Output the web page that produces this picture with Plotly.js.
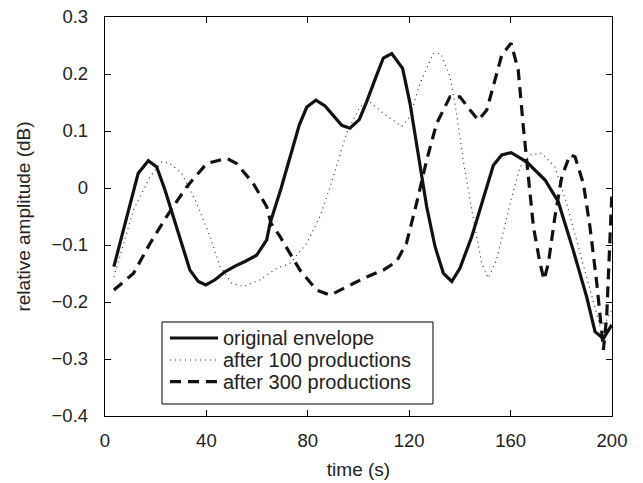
<!DOCTYPE html>
<html>
<head>
<meta charset="utf-8">
<script src="https://cdn.plot.ly/plotly-3.0.1.min.js"></script>
<style>html,body{margin:0;padding:0;background:#fff;}#chart{width:643px;height:483px;}</style>
</head>
<body>
<div id="chart"></div>
<script>
const seriesNames = ["original envelope", "after 100 productions", "after 300 productions"];

const origX = [3.5, 13.1, 17.1, 20.4, 23.7, 33.5, 36.8, 39.8, 43.4, 47.3, 51.3, 55.2, 59.8, 63.8, 65.1, 69.5, 76.6, 79.6, 83.2, 86.8, 93.4, 96.6, 100.3, 103.2, 106.9, 109.8, 113.1, 117.4, 120.3, 122.9, 126.9, 130.2, 133.5, 136.8, 140, 144.7, 148.6, 153.2, 156.5, 160.2, 166.3, 173.6, 178.8, 184.7, 190, 193.3, 196.6, 199.9];
const origY = [-0.138, 0.026, 0.048, 0.037, -0.004, -0.144, -0.164, -0.170, -0.161, -0.147, -0.137, -0.129, -0.118, -0.091, -0.062, 0.0, 0.110, 0.142, 0.154, 0.144, 0.110, 0.105, 0.120, 0.151, 0.195, 0.228, 0.236, 0.210, 0.149, 0.078, -0.033, -0.103, -0.150, -0.164, -0.141, -0.085, -0.027, 0.040, 0.058, 0.062, 0.046, 0.014, -0.024, -0.109, -0.191, -0.252, -0.264, -0.240];

const p100X = [3.5, 11.2, 17.8, 22.4, 25.6, 30.2, 36.2, 41.4, 45.4, 50, 54.6, 61.1, 67.7, 73, 79.6, 84.8, 88.8, 92.7, 95.3, 100.6, 104.5, 109.8, 117, 120.3, 124.3, 129.5, 132.5, 136.1, 138.7, 141.3, 144.7, 148.6, 151.2, 154.5, 159.8, 163.7, 167.7, 172.3, 177.5, 182.1, 187.4, 192.6, 195.3, 197.9, 199.9];
const p100Y = [-0.156, -0.039, 0.02, 0.046, 0.043, 0.026, -0.027, -0.085, -0.138, -0.167, -0.173, -0.161, -0.141, -0.132, -0.097, -0.050, 0.002, 0.061, 0.096, 0.143, 0.151, 0.131, 0.108, 0.125, 0.184, 0.236, 0.236, 0.195, 0.131, 0.049, -0.039, -0.132, -0.158, -0.126, -0.027, 0.037, 0.058, 0.061, 0.037, -0.027, -0.115, -0.202, -0.243, -0.232, -0.214];

const p300X = [3.5, 11.2, 17.8, 24.3, 32.2, 40.1, 48, 51.9, 58.5, 63.8, 65.5, 69, 76.9, 83.5, 88.8, 94, 103.2, 109.8, 115, 118.9, 122.9, 126.9, 130.8, 136.1, 140, 144, 147.3, 150.6, 153.2, 156.5, 160.2, 163, 165, 167, 169, 171.6, 173.2, 174.9, 177.5, 180.2, 183.4, 185.4, 188.7, 191.3, 194, 196, 196.6, 197.9, 199.2, 199.9];
const p300Y = [-0.179, -0.150, -0.097, -0.050, 0.002, 0.043, 0.052, 0.043, 0.008, -0.033, -0.062, -0.085, -0.144, -0.179, -0.188, -0.176, -0.156, -0.144, -0.129, -0.097, -0.027, 0.049, 0.113, 0.160, 0.160, 0.137, 0.119, 0.137, 0.178, 0.233, 0.254, 0.207, 0.108, 0.026, -0.068, -0.132, -0.161, -0.132, -0.050, 0.020, 0.058, 0.055, 0.008, -0.068, -0.167, -0.255, -0.284, -0.226, -0.097, -0.015];

const xTicks = [0, 40, 80, 120, 160, 200];
const yTicks = [-0.4, -0.3, -0.2, -0.1, 0, 0.1, 0.2, 0.3];
const yTickText = ["\u22120.4", "\u22120.3", "\u22120.2", "\u22120.1", "0", "0.1", "0.2", "0.3"];

const FONT = "Liberation Sans, Arial, sans-serif";
const lineStyles = [
  {color: "#111", width: 3.2},
  {color: "#333", width: 1.2, dash: "1px,4px"},
  {color: "#111", width: 3.2, dash: "11px,7px"}
];

const traces = [
  {x: origX, y: origY, name: seriesNames[0], mode: "lines", line: lineStyles[0], showlegend: false},
  {x: p100X, y: p100Y, name: seriesNames[1], mode: "lines", line: lineStyles[1], showlegend: false},
  {x: p300X, y: p300Y, name: seriesNames[2], mode: "lines", line: lineStyles[2], showlegend: false}
];

// legend drawn in paper coordinates (box, samples, labels)
const legBox = {x0: 0.1124, x1: 0.6469, y0: 0.0301, y1: 0.2356};
const legRowsY = [0.1955, 0.1404, 0.0860];
const legSampleX = [0.1282, 0.2229];
const legTextX = 0.2290;

const shapes = [
  {type: "rect", xref: "paper", yref: "paper", x0: legBox.x0, x1: legBox.x1, y0: legBox.y0, y1: legBox.y1,
   line: {color: "#000", width: 1}, fillcolor: "#fff", layer: "above"}
];
const annotations = [];
seriesNames.forEach((nm, i) => {
  shapes.push({type: "line", xref: "paper", yref: "paper", x0: legSampleX[0], x1: legSampleX[1],
    y0: legRowsY[i], y1: legRowsY[i], line: lineStyles[i], layer: "above"});
  annotations.push({xref: "paper", yref: "paper", x: legTextX, y: legRowsY[i], xanchor: "left", yanchor: "middle",
    text: nm, showarrow: false, font: {family: FONT, size: 20, color: "#222"}});
});

const axisCommon = {
  showgrid: false, zeroline: false, showline: true, mirror: "ticks",
  linecolor: "#000", linewidth: 1.2, ticks: "inside", ticklen: 6, tickcolor: "#000",
  tickfont: {family: FONT, size: 18.5, color: "#222"}
};

const layout = {
  width: 643, height: 483,
  margin: {l: 105, r: 31, t: 17, b: 67},
  paper_bgcolor: "#fff", plot_bgcolor: "#fff",
  font: {family: FONT, color: "#222"},
  showlegend: false,
  shapes: shapes,
  annotations: annotations,
  xaxis: Object.assign({}, axisCommon, {
    range: [0, 200], tickvals: xTicks, ticktext: xTicks.map(String),
    ticklabelstandoff: 8,
    title: {text: "time (s)", font: {family: FONT, size: 19, color: "#222"}, standoff: 12}
  }),
  yaxis: Object.assign({}, axisCommon, {
    range: [-0.4, 0.3], tickvals: yTicks, ticktext: yTickText,
    ticklabelstandoff: 12,
    title: {text: "relative amplitude (dB)", font: {family: FONT, size: 19, color: "#222"}, standoff: 16}
  })
};

Plotly.newPlot("chart", traces, layout, {displayModeBar: false, staticPlot: true});
</script>
</body>
</html>
